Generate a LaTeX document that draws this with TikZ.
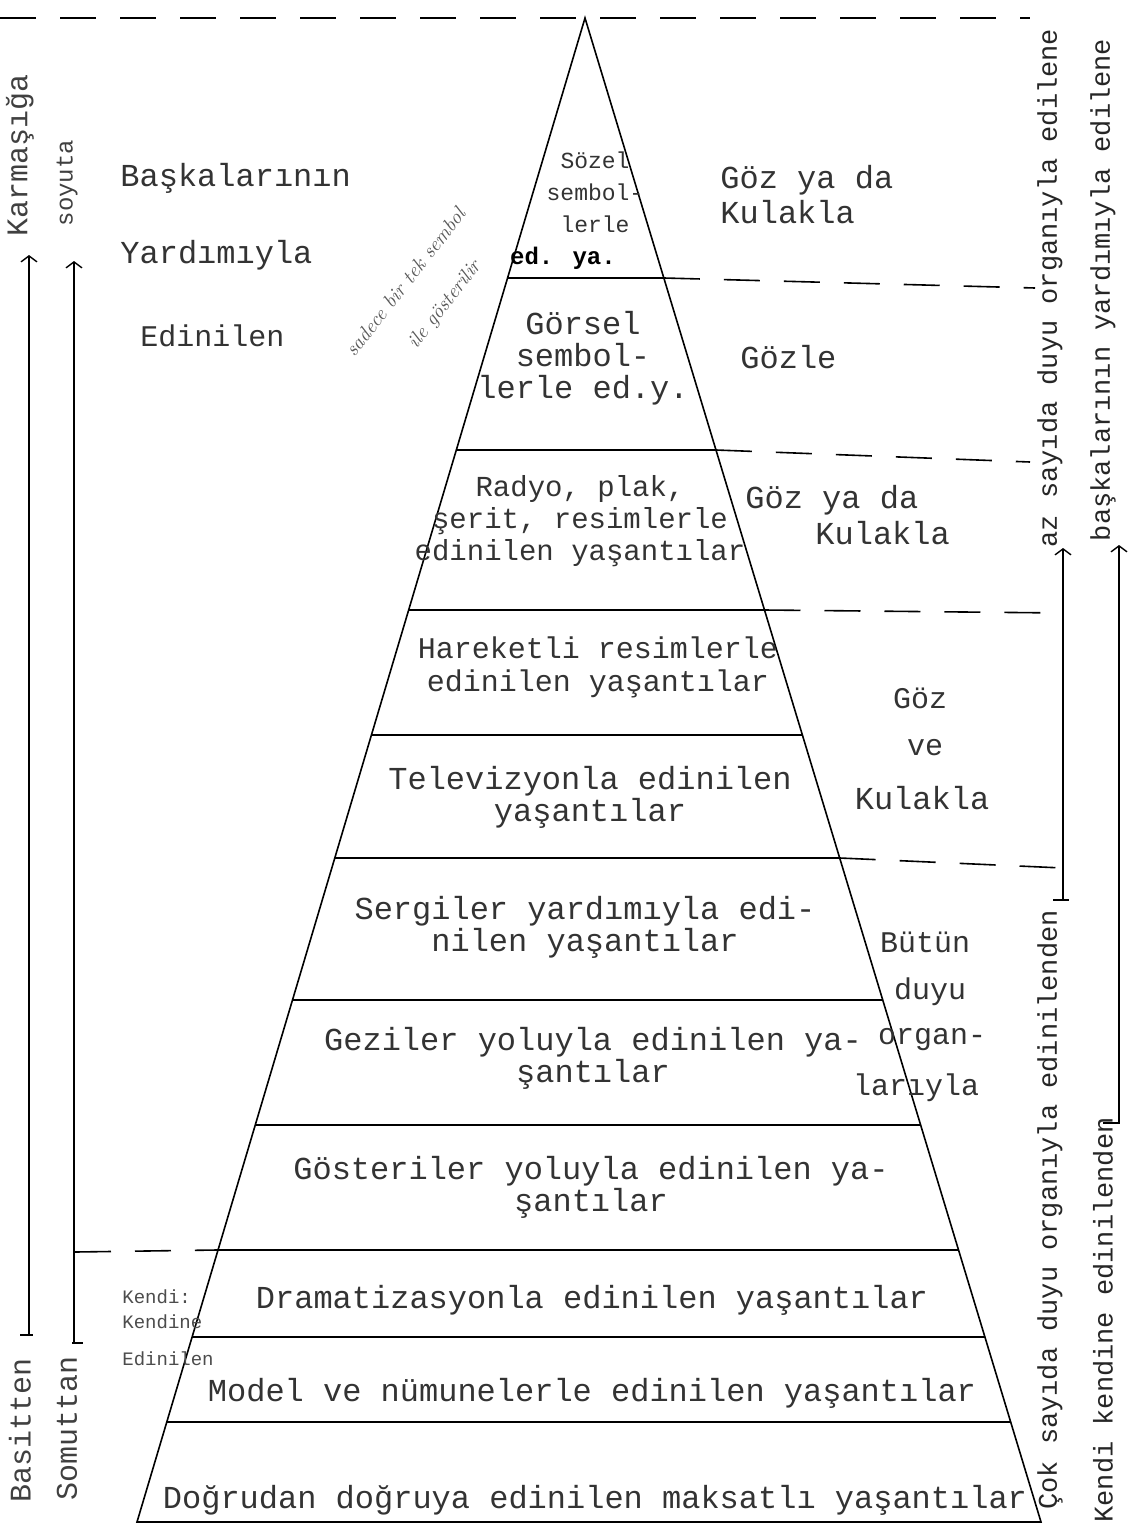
\documentclass[tikz,border=0pt]{standalone}
\usepackage{fontspec}
\newfontfamily\tw{Liberation Mono}
\usetikzlibrary{calc,arrows.meta}
\begin{document}
\begin{tikzpicture}[x=0.5pt,y=-0.5pt,
  edge/.style={line width=0.8pt},
  dline/.style={line width=0.8pt, dash pattern=on 18pt off 12pt},
  lvl/.style={font=\tw\fontsize{16}{16}\selectfont, align=center, inner sep=0pt, text=black!80},
  lvls/.style={font=\tw\fontsize{14.5}{16}\selectfont, align=center, inner sep=0pt, text=black!80},
  side/.style={font=\tw\fontsize{15}{16}\selectfont, inner sep=0pt, text=black!80},
  small/.style={font=\tw\fontsize{9.5}{10}\selectfont, inner sep=0pt, anchor=west, text=black!70},
  vtxt/.style={font=\tw\fontsize{13.5}{14}\selectfont, rotate=90, inner sep=0pt, text=black!85},
  vleft/.style={font=\tw\fontsize{15}{16}\selectfont, rotate=90, inner sep=0pt, text=black!75},
  hand/.style={rotate=52, font=\itshape\fontsize{10}{13}\selectfont, text=black!65, inner sep=0pt},
  arr/.style={line width=0.7pt, -{Straight Barb[length=3pt,width=8pt]}},
  tick/.style={line width=0.8pt},
]
\useasboundingbox (0,0) rectangle (1135,1525);
% pyramid
\coordinate (A) at (585,18);
\coordinate (BL) at (137,1522);
\coordinate (BR) at (1041,1522);
\draw[edge] (BL) -- (A) -- (BR) -- cycle;
\foreach \y/\n in {278/1,450/2,610/3,735/4,858/5,1000/6,1125/7,1250/8,1337/9,1422/10}{
  \coordinate (L\n) at ($(A)!{(\y-18)/1504}!(BL)$);
  \coordinate (R\n) at ($(A)!{(\y-18)/1504}!(BR)$);
  \draw[edge] (L\n) -- (R\n);
}
% dashed guide lines
\coordinate (T0) at (0,18);
\coordinate (E0) at (1030,18);
\coordinate (E1) at (1035,288);
\coordinate (E2) at (1030,462);
\coordinate (E3) at (1063,613);
\coordinate (E5) at (1063,868);
\coordinate (E8) at (75,1252);
\draw[dline] (T0) -- (E0);
\draw[dline] (R1) -- (E1);
\draw[dline] (R2) -- (E2);
\draw[dline] (R3) -- (E3);
\draw[dline] (R5) -- (E5);
\draw[dline] (E8) -- (L8);
% right brackets / arrows
\coordinate (P1a) at (1063,900);
\coordinate (P1b) at (1063,548);
\coordinate (P1t1) at (1053,900);
\coordinate (P1t2) at (1069,900);
\draw[arr] (P1a) -- (P1b);
\draw[tick] (P1t1) -- (P1t2);
\coordinate (P2a) at (1119,1123);
\coordinate (P2b) at (1119,545);
\coordinate (P2t1) at (1103,1123);
\coordinate (P2t2) at (1120,1123);
\draw[arr] (P2a) -- (P2b);
\draw[tick] (P2t1) -- (P2t2);
% left arrows
\coordinate (Q1a) at (29,1335);
\coordinate (Q1b) at (29,255);
\coordinate (Q1t1) at (20,1335);
\coordinate (Q1t2) at (33,1335);
\draw[arr] (Q1a) -- (Q1b);
\draw[tick] (Q1t1) -- (Q1t2);
\coordinate (Q2a) at (74,1343);
\coordinate (Q2b) at (74,261);
\coordinate (Q2t1) at (72,1343);
\coordinate (Q2t2) at (83,1343);
\draw[arr] (Q2a) -- (Q2b);
\draw[tick] (Q2t1) -- (Q2t2);
% vertical labels left
\node[vleft] (karm) at (20,155) {Karmaşığa};
\node[vleft] (basit) at (20,1430) {Basitten};
\node[vleft, font=\tw\fontsize{12}{13}\selectfont] (soy) at (67,183) {soyuta};
\node[vleft] (somut) at (67,1428) {Somuttan};
% vertical labels right
\node[vtxt] (az) at (1050,288) {az sayıda duyu organıyla edilene};
\node[vtxt] (cok) at (1050,1210) {Çok sayıda duyu organıyla edinilenden};
\node[vtxt] (bask) at (1103,290) {başkalarının yardımıyla edilene};
\node[vtxt] (kendi) at (1103,1320) {Kendi kendine edinilenden};
% left block text
\node[side, anchor=west, font=\tw\fontsize{16}{16}\selectfont] (t1) at (120,178) {Başkalarının};
\node[side, anchor=west, font=\tw\fontsize{16}{16}\selectfont] (t2) at (120,255) {Yardımıyla};
\node[side, anchor=west, font=\tw\fontsize{15}{16}\selectfont] (t3) at (140,336) {Edinilen};
% handwritten note
\node[hand] (note1) at (405,282) {sadece bir tek sembol};
\node[hand] (note2) at (445,305) {ile gösterilir};
% level texts
\node[lvl, font=\tw\fontsize{11.5}{16}\selectfont] (s1) at (595,192) {Sözel\\sembol-\\lerle};
\node[font=\tw\bfseries\fontsize{12}{13}\selectfont, inner sep=0pt] (s1b) at (563,258) {ed. ya.};
\node[side, anchor=west, font=\tw\fontsize{16}{16}\selectfont] (r1) at (720,180) {Göz ya da};
\node[side, anchor=west, font=\tw\fontsize{16}{16}\selectfont] (r1b) at (720,212) {Kulakla};
\node[lvl] (s2) at (583,358) {Görsel\\sembol-\\lerle ed.y.};
\node[side, anchor=west, font=\tw\fontsize{16}{16}\selectfont] (r2) at (740,357) {Gözle};
\node[lvls] (s3) at (580,521) {Radyo, plak,\\şerit, resimlerle\\edinilen yaşantılar};
\node[side, anchor=west, font=\tw\fontsize{16}{16}\selectfont] (r3) at (745,500) {Göz ya da};
\node[side, anchor=west, font=\tw\fontsize{16}{16}\selectfont] (r3b) at (815,533) {Kulakla};
\node[lvls, font=\tw\fontsize{15}{16.5}\selectfont] (s4) at (598,667) {Hareketli resimlerle\\edinilen yaşantılar};
\node[lvl] (s5) at (590,797) {Televizyonla edinilen\\yaşantılar};
\node[side] (r4a) at (920,698) {Göz};
\node[side] (r4b) at (925,748) {ve};
\node[side, font=\tw\fontsize{16}{16}\selectfont] (r4c) at (922,798) {Kulakla};
\node[lvl] (s6) at (585,927) {Sergiler yardımıyla edi-\\nilen yaşantılar};
\node[side] (r5a) at (925,942) {Bütün};
\node[side] (r5b) at (930,992) {duyu};
\node[side] (r5c) at (932,1040) {organ-};
\node[side] (r5d) at (916,1088) {larıyla};
\node[lvl] (s7) at (593,1058) {Geziler yoluyla edinilen ya-\\şantılar};
\node[lvl] (s8) at (591,1187) {Gösteriler yoluyla edinilen ya-\\şantılar};
\node[lvl] (s9) at (592,1300) {Dramatizasyonla edinilen yaşantılar};
\node[lvl] (s10) at (592,1393) {Model ve nümunelerle edinilen yaşantılar};
\node[lvl] (s11) at (595,1500) {Doğrudan doğruya edinilen maksatlı yaşantılar};
% bottom-left small text
\node[small] (k1) at (122,1297) {Kendi:};
\node[small] (k2) at (122,1322) {Kendine};
\node[small] (k3) at (122,1359) {Edinilen};
\end{tikzpicture}
\end{document}
